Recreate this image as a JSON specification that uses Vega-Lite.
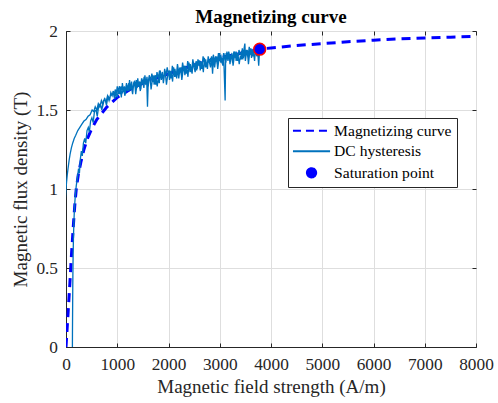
{
  "$schema": "https://vega.github.io/schema/vega-lite/v6.json",
  "width": 410,
  "height": 316,
  "autosize": {"type": "none"},
  "padding": {"left": 66, "top": 31, "right": 22, "bottom": 56},
  "background": "white",
  "title": {"text": "Magnetizing curve", "font": "Liberation Serif", "fontSize": 19, "fontWeight": "bold", "color": "#000000", "anchor": "middle", "frame": "group", "offset": -19.5, "baseline": "alphabetic"},
  "config": {
    "view": {"stroke": "#262626", "strokeWidth": 1},
    "axis": {
      "labelFont": "Liberation Serif", "titleFont": "Liberation Serif",
      "labelFontSize": 17.3, "titleFontSize": 19, "titleFontWeight": "normal",
      "labelColor": "#262626", "titleColor": "#262626",
      "domainColor": "#262626", "tickColor": "#262626", "gridColor": "#dedede",
      "tickSize": -4, "labelPadding": 12.5, "titlePadding": 5, "labelOverlap": false, "labelFlush": false
    }
  },
  "datasets": {
    "mag": [
      {"H":0,"B":0},{"H":15,"B":0.08},{"H":30,"B":0.16},{"H":45,"B":0.24},{"H":60,"B":0.32},{"H":75,"B":0.40},{"H":92,"B":0.50},{"H":110,"B":0.60},{"H":130,"B":0.70},{"H":150,"B":0.80},{"H":172,"B":0.90},{"H":200,"B":1.00},{"H":240,"B":1.09},{"H":290,"B":1.17},{"H":350,"B":1.25},{"H":420,"B":1.32},{"H":500,"B":1.38},{"H":600,"B":1.44},{"H":700,"B":1.48},{"H":800,"B":1.52},{"H":1000,"B":1.58},{"H":1250,"B":1.63},{"H":1500,"B":1.67},{"H":1750,"B":1.70},{"H":2000,"B":1.73},{"H":2500,"B":1.785},{"H":3000,"B":1.83},{"H":3500,"B":1.865},{"H":3780,"B":1.885},{"H":4000,"B":1.893},{"H":4500,"B":1.908},{"H":5000,"B":1.92},{"H":5500,"B":1.932},{"H":6000,"B":1.942},{"H":6500,"B":1.95},{"H":7000,"B":1.956},{"H":7500,"B":1.961},{"H":8000,"B":1.966}
    ],
    "hyst": [
      {"H":125,"B":0},{"H":126,"B":0.08},{"H":128,"B":0.18},{"H":130,"B":0.28},{"H":132,"B":0.38},{"H":135,"B":0.48},{"H":139,"B":0.58},{"H":145,"B":0.68},{"H":153,"B":0.78},{"H":165,"B":0.88},{"H":182,"B":0.96},{"H":200,"B":1.02},{"H":222,"B":1.07},{"H":245,"B":1.13},{"H":262,"B":1.10},{"H":280,"B":1.19},{"H":300,"B":1.24},{"H":318,"B":1.21},{"H":340,"B":1.29},{"H":365,"B":1.32},{"H":385,"B":1.29},{"H":410,"B":1.37},{"H":435,"B":1.39},{"H":455,"B":1.36},{"H":480,"B":1.43},{"H":505,"B":1.45},{"H":530,"B":1.42},{"H":555,"B":1.49},{"H":585,"B":1.50},{"H":610,"B":1.46},{"H":640,"B":1.53},{"H":670,"B":1.54},{"H":700,"B":1.50},{"H":730,"B":1.56},{"H":760,"B":1.57},{"H":790,"B":1.53},{"H":820,"B":1.59},{"H":850,"B":1.56},{"H":875,"B":1.61},
      {"H":900,"B":1.59},{"H":925,"B":1.62},{"H":950,"B":1.57},{"H":975,"B":1.61},{"H":1000,"B":1.58},{"H":1025,"B":1.64},{"H":1050,"B":1.60},{"H":1075,"B":1.65},{"H":1100,"B":1.61},{"H":1125,"B":1.63},{"H":1150,"B":1.59},{"H":1175,"B":1.66},{"H":1200,"B":1.62},{"H":1225,"B":1.67},{"H":1250,"B":1.63},{"H":1275,"B":1.65},{"H":1300,"B":1.60},{"H":1325,"B":1.68},{"H":1350,"B":1.64},{"H":1375,"B":1.69},{"H":1400,"B":1.65},{"H":1425,"B":1.67},{"H":1450,"B":1.62},{"H":1475,"B":1.70},{"H":1500,"B":1.66},{"H":1525,"B":1.71},{"H":1550,"B":1.67},{"H":1575,"B":1.69},{"H":1590,"B":1.52},{"H":1605,"B":1.68},{"H":1625,"B":1.72},{"H":1650,"B":1.68},{"H":1675,"B":1.73},{"H":1700,"B":1.69},{"H":1725,"B":1.71},{"H":1750,"B":1.66},{"H":1775,"B":1.74},{"H":1800,"B":1.70},{"H":1825,"B":1.75},{"H":1850,"B":1.71},{"H":1875,"B":1.73},{"H":1900,"B":1.68},{"H":1925,"B":1.76},{"H":1950,"B":1.72},{"H":1975,"B":1.77},{"H":2000,"B":1.72},{"H":2025,"B":1.75},{"H":2050,"B":1.70},{"H":2075,"B":1.78},{"H":2100,"B":1.73},{"H":2125,"B":1.76},{"H":2150,"B":1.71},{"H":2175,"B":1.79},{"H":2200,"B":1.74},{"H":2225,"B":1.77},{"H":2250,"B":1.72},{"H":2275,"B":1.80},{"H":2300,"B":1.75},{"H":2325,"B":1.78},{"H":2350,"B":1.73},{"H":2375,"B":1.81},{"H":2400,"B":1.76},{"H":2425,"B":1.79},{"H":2450,"B":1.74},{"H":2475,"B":1.82},{"H":2500,"B":1.77},{"H":2525,"B":1.80},{"H":2550,"B":1.75},{"H":2575,"B":1.82},{"H":2600,"B":1.78},{"H":2625,"B":1.81},{"H":2650,"B":1.76},{"H":2675,"B":1.84},{"H":2700,"B":1.79},{"H":2725,"B":1.82},{"H":2750,"B":1.77},{"H":2775,"B":1.84},{"H":2800,"B":1.80},{"H":2825,"B":1.83},{"H":2850,"B":1.78},{"H":2875,"B":1.85},{"H":2900,"B":1.81},{"H":2925,"B":1.84},{"H":2950,"B":1.79},{"H":2975,"B":1.86},{"H":3000,"B":1.82},{"H":3025,"B":1.84},{"H":3050,"B":1.79},{"H":3075,"B":1.86},{"H":3105,"B":1.56},{"H":3115,"B":1.83},{"H":3125,"B":1.86},{"H":3150,"B":1.82},{"H":3175,"B":1.87},{"H":3200,"B":1.83},{"H":3225,"B":1.85},{"H":3250,"B":1.80},{"H":3275,"B":1.87},{"H":3300,"B":1.84},{"H":3325,"B":1.86},{"H":3350,"B":1.81},{"H":3375,"B":1.88},{"H":3400,"B":1.85},{"H":3425,"B":1.87},{"H":3450,"B":1.82},{"H":3475,"B":1.89},{"H":3490,"B":1.92},{"H":3500,"B":1.85},{"H":3525,"B":1.88},{"H":3550,"B":1.83},{"H":3575,"B":1.90},{"H":3600,"B":1.86},{"H":3625,"B":1.88},{"H":3650,"B":1.84},{"H":3675,"B":1.89},{"H":3700,"B":1.86},{"H":3725,"B":1.88},{"H":3750,"B":1.84},{"H":3775,"B":1.88},{"H":3790,"B":1.88},
      {"H":3780,"B":1.89},{"H":3760,"B":1.78},{"H":3740,"B":1.87},{"H":3720,"B":1.84},{"H":3700,"B":1.90},{"H":3680,"B":1.81},{"H":3660,"B":1.86},{"H":3640,"B":1.88},{"H":3620,"B":1.83},{"H":3600,"B":1.89},{"H":3580,"B":1.85},{"H":3560,"B":1.79},{"H":3540,"B":1.87},{"H":3520,"B":1.86},{"H":3500,"B":1.81},{"H":3480,"B":1.88},{"H":3460,"B":1.83},{"H":3440,"B":1.89},{"H":3420,"B":1.82},{"H":3400,"B":1.84},
      {"H":3380,"B":1.79},{"H":3360,"B":1.84},{"H":3340,"B":1.86},{"H":3320,"B":1.81},{"H":3300,"B":1.87},{"H":3280,"B":1.83},{"H":3260,"B":1.78},{"H":3240,"B":1.85},{"H":3220,"B":1.84},{"H":3200,"B":1.79},{"H":3180,"B":1.86},{"H":3160,"B":1.81},{"H":3140,"B":1.87},{"H":3120,"B":1.80},{"H":3100,"B":1.83},{"H":3080,"B":1.86},{"H":3060,"B":1.78},{"H":3040,"B":1.83},{"H":3020,"B":1.80},{"H":3000,"B":1.86},
      {"H":2980,"B":1.81},{"H":2960,"B":1.76},{"H":2940,"B":1.83},{"H":2920,"B":1.82},{"H":2900,"B":1.77},{"H":2880,"B":1.84},{"H":2860,"B":1.73},{"H":2840,"B":1.84},{"H":2820,"B":1.77},{"H":2800,"B":1.80},{"H":2780,"B":1.83},{"H":2760,"B":1.76},{"H":2740,"B":1.80},{"H":2720,"B":1.77},{"H":2700,"B":1.83},{"H":2680,"B":1.74},{"H":2660,"B":1.79},{"H":2640,"B":1.80},{"H":2620,"B":1.75},{"H":2600,"B":1.81},
      {"H":2580,"B":1.81},{"H":2560,"B":1.76},{"H":2540,"B":1.81},{"H":2520,"B":1.74},{"H":2500,"B":1.77},{"H":2480,"B":1.80},{"H":2460,"B":1.73},{"H":2440,"B":1.77},{"H":2420,"B":1.74},{"H":2400,"B":1.80},{"H":2380,"B":1.71},{"H":2360,"B":1.76},{"H":2340,"B":1.77},{"H":2320,"B":1.72},{"H":2300,"B":1.78},{"H":2280,"B":1.74},{"H":2260,"B":1.69},{"H":2240,"B":1.76},{"H":2220,"B":1.75},{"H":2200,"B":1.70},
      {"H":2180,"B":1.77},{"H":2160,"B":1.70},{"H":2140,"B":1.74},{"H":2120,"B":1.71},{"H":2100,"B":1.77},{"H":2080,"B":1.68},{"H":2060,"B":1.73},{"H":2040,"B":1.74},{"H":2020,"B":1.69},{"H":2000,"B":1.75},{"H":1980,"B":1.71},{"H":1960,"B":1.66},{"H":1940,"B":1.73},{"H":1920,"B":1.72},{"H":1900,"B":1.67},{"H":1880,"B":1.74},{"H":1860,"B":1.69},{"H":1840,"B":1.75},{"H":1820,"B":1.67},{"H":1800,"B":1.70},
      {"H":1780,"B":1.65},{"H":1760,"B":1.70},{"H":1740,"B":1.72},{"H":1720,"B":1.66},{"H":1700,"B":1.72},{"H":1680,"B":1.68},{"H":1660,"B":1.63},{"H":1640,"B":1.71},{"H":1620,"B":1.69},{"H":1600,"B":1.64},{"H":1580,"B":1.71},{"H":1560,"B":1.66},{"H":1540,"B":1.72},{"H":1520,"B":1.64},{"H":1500,"B":1.67},{"H":1480,"B":1.70},{"H":1460,"B":1.63},{"H":1440,"B":1.68},{"H":1420,"B":1.65},{"H":1400,"B":1.70},
      {"H":1380,"B":1.65},{"H":1360,"B":1.60},{"H":1340,"B":1.68},{"H":1320,"B":1.67},{"H":1300,"B":1.61},{"H":1280,"B":1.68},{"H":1260,"B":1.63},{"H":1240,"B":1.69},{"H":1220,"B":1.62},{"H":1200,"B":1.64},{"H":1180,"B":1.67},{"H":1160,"B":1.60},{"H":1140,"B":1.65},{"H":1120,"B":1.62},{"H":1100,"B":1.67},{"H":1080,"B":1.58},{"H":1060,"B":1.63},{"H":1040,"B":1.65},{"H":1020,"B":1.60},{"H":1000,"B":1.65},
      {"H":980,"B":1.60},{"H":960,"B":1.63},{"H":940,"B":1.58},{"H":920,"B":1.62},{"H":900,"B":1.59},{"H":870,"B":1.60},{"H":840,"B":1.56},{"H":810,"B":1.59},{"H":780,"B":1.55},{"H":750,"B":1.57},{"H":720,"B":1.53},{"H":690,"B":1.56},{"H":660,"B":1.52},{"H":630,"B":1.54},{"H":600,"B":1.50},{"H":570,"B":1.52},{"H":540,"B":1.49},{"H":510,"B":1.50},{"H":470,"B":1.47},{"H":430,"B":1.46},{"H":390,"B":1.44},{"H":350,"B":1.43},{"H":310,"B":1.41},{"H":270,"B":1.39},{"H":230,"B":1.37},{"H":190,"B":1.34},{"H":160,"B":1.32},{"H":130,"B":1.29},{"H":105,"B":1.26},{"H":80,"B":1.22},{"H":60,"B":1.18},{"H":40,"B":1.13},{"H":25,"B":1.09},{"H":10,"B":1.04},{"H":0,"B":1.00},{"H":-20,"B":0.9}
    ],
    "sat": [{"H": 3780, "B": 1.885}]
  },
  "layer": [
    {
      "data": {"name": "mag"},
      "mark": {"type": "line", "strokeDash": [9, 6], "strokeWidth": 3, "clip": true},
      "encoding": {
        "x": {"field": "H", "type": "quantitative", "scale": {"domain": [0, 8000], "nice": false},
          "axis": {"orient": "bottom", "values": [0,1000,2000,3000,4000,5000,6000,7000,8000], "format": "d", "title": "Magnetic field strength (A/m)", "grid": true}},
        "y": {"field": "B", "type": "quantitative", "scale": {"domain": [0, 2], "nice": false},
          "axis": {"orient": "left", "values": [0,0.5,1,1.5,2], "format": "~g", "title": "Magnetic flux density (T)", "grid": true}},
        "color": {"datum": "Magnetizing curve", "type": "nominal",
          "scale": {"domain": ["Magnetizing curve", "DC hysteresis", "Saturation point"], "range": ["#0000ff", "#0072BD", "#0000ff"]},
          "legend": {"title": null, "orient": "none", "legendX": 222, "legendY": 87, "direction": "vertical",
            "symbolSize": 85, "symbolStrokeWidth": 2, "labelFont": "Liberation Serif", "labelFontSize": 15.6, "labelColor": "#000000",
            "labelOffset": 25.5, "labelLimit": 300, "rowPadding": 3.5, "padding": 5, "strokeColor": "#262626", "fillColor": "white", "cornerRadius": 0,
            "encode": {"symbols": {"update": {
              "shape": [{"test": "datum.value === 'Saturation point'", "value": "M1.33,0A1,1,0,1,0,3.33,0A1,1,0,1,0,1.33,0Z"}, {"value": "M-1.7,0H6.35"}],
              "fill": [{"test": "datum.value === 'Saturation point'", "value": "#0000ff"}, {"value": "transparent"}],
              "stroke": [{"test": "datum.value === 'Saturation point'", "value": "#ff0000"}, {"test": "datum.value === 'Magnetizing curve'", "value": "#0000ff"}, {"value": "#0072BD"}],
              "strokeDash": [{"test": "datum.value === 'Magnetizing curve'", "value": [8, 5]}, {"value": [1, 0]}],
              "opacity": {"value": 1}
            }}}
          }}
      }
    },
    {
      "data": {"name": "hyst"},
      "mark": {"type": "line", "strokeWidth": 1.3, "clip": true},
      "encoding": {
        "x": {"field": "H", "type": "quantitative", "axis": null},
        "y": {"field": "B", "type": "quantitative", "axis": null},
        "order": {"value": null},
        "color": {"datum": "DC hysteresis", "type": "nominal"}
      }
    },
    {
      "data": {"name": "sat"},
      "mark": {"type": "point", "filled": true, "fill": "#0000ff", "stroke": "#ff0000", "strokeWidth": 1.5, "size": 140, "opacity": 1},
      "encoding": {
        "x": {"field": "H", "type": "quantitative",
          "axis": {"orient": "top", "values": [0,1000,2000,3000,4000,5000,6000,7000,8000], "labels": false, "title": null, "grid": false, "domain": false}},
        "y": {"field": "B", "type": "quantitative",
          "axis": {"orient": "right", "values": [0,0.5,1,1.5,2], "labels": false, "title": null, "grid": false, "domain": false}}
      }
    }
  ],
  "resolve": {"axis": {"x": "independent", "y": "independent"}}
}
